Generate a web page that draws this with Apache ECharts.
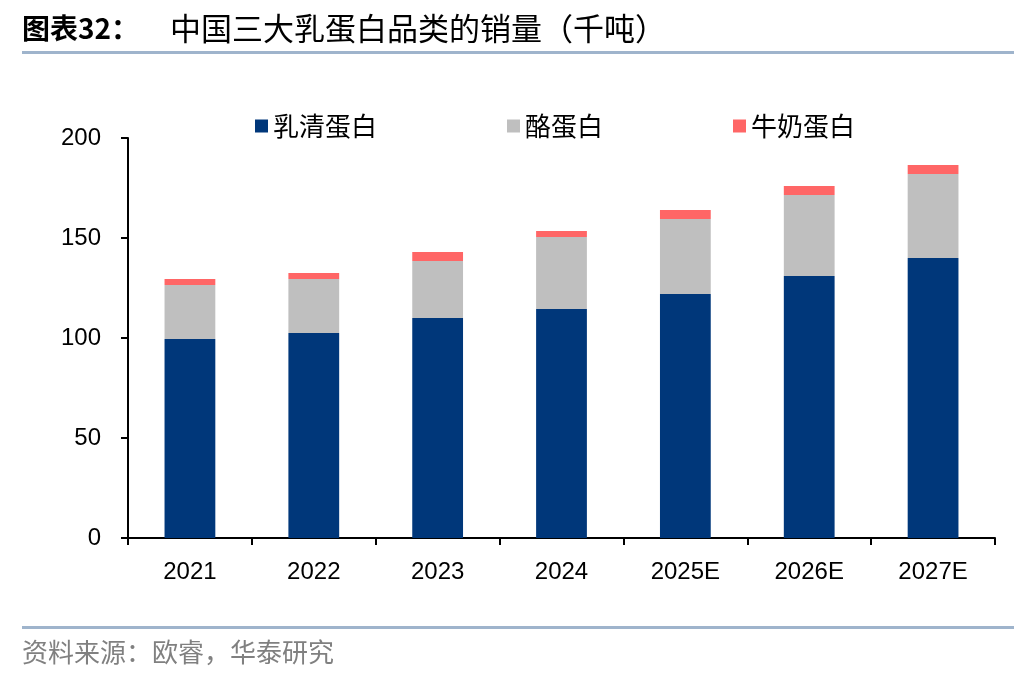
<!DOCTYPE html>
<html>
<head>
<meta charset="utf-8">
<script src="https://cdn.jsdelivr.net/npm/echarts@6/dist/echarts.min.js"></script>
<style>
html,body{margin:0;padding:0;background:#fff;}
#main{width:1036px;height:676px;}
</style>
</head>
<body>
<div id="main"></div>
<script>
const categories = ['2021','2022','2023','2024','2025E','2026E','2027E'];
const seriesNames = ['乳清蛋白','酪蛋白','牛奶蛋白'];
const whey = [99.5, 102.5, 110, 114.5, 122, 131, 140];
const casein = [27, 27, 28.5, 36, 37.5, 40.5, 42];
const milk = [3, 3, 4.5, 3, 4.5, 4.5, 4.5];
const yTicks = {min: 0, max: 200, interval: 50};
const titleLabel = '图表32：';
const titleText = '中国三大乳蛋白品类的销量（千吨）';
const sourceText = '资料来源：欧睿，华泰研究';

const cjk = '"Noto Sans CJK SC", sans-serif';
const latin = '"Liberation Sans", Arial, sans-serif';
const chart = echarts.init(document.getElementById('main'));
const colors = ['#00377A', '#BFBFBF', '#FF6666'];

chart.setOption({
  animation: false,
  color: colors,
  grid: {left: 128, right: 41, top: 138, bottom: 138, containLabel: false},
  legend: {
    left: 250, top: 108,
    itemWidth: 13, itemHeight: 13, itemGap: 130,
    icon: 'rect',
    textStyle: {fontFamily: cjk, fontSize: 26, color: '#000'},
    data: seriesNames
  },
  xAxis: {
    type: 'category',
    data: categories,
    axisLine: {lineStyle: {color: '#000', width: 2}},
    axisTick: {show: true, length: 7, lineStyle: {color: '#000', width: 2}},
    axisLabel: {fontFamily: latin, fontSize: 24, color: '#000', margin: 22}
  },
  yAxis: {
    type: 'value',
    min: yTicks.min, max: yTicks.max, interval: yTicks.interval,
    splitLine: {show: false},
    axisLine: {show: true, lineStyle: {color: '#000', width: 2}},
    axisTick: {show: true, length: 7, lineStyle: {color: '#000', width: 2}},
    axisLabel: {fontFamily: latin, fontSize: 24, color: '#000', margin: 27}
  },
  series: [
    {name: seriesNames[0], type: 'bar', stack: 't', data: whey, barWidth: '41%'},
    {name: seriesNames[1], type: 'bar', stack: 't', data: casein, barWidth: '41%'},
    {name: seriesNames[2], type: 'bar', stack: 't', data: milk, barWidth: '41%'}
  ],
  graphic: [
    {type: 'text', left: 22, top: 14, style: {text: titleLabel, fontFamily: cjk, fontWeight: 'bold', fontSize: 28, fill: '#000'}},
    {type: 'text', left: 170, top: 13, style: {text: titleText, fontFamily: cjk, fontSize: 31, fill: '#000'}},
    {type: 'rect', shape: {x: 22, y: 51, width: 992, height: 3}, style: {fill: '#9FB4CC'}},
    {type: 'rect', shape: {x: 22, y: 626, width: 992, height: 3}, style: {fill: '#9FB4CC'}},
    {type: 'text', left: 22, top: 639, style: {text: sourceText, fontFamily: cjk, fontSize: 26, fill: '#808080'}}
  ]
});
</script>
</body>
</html>
